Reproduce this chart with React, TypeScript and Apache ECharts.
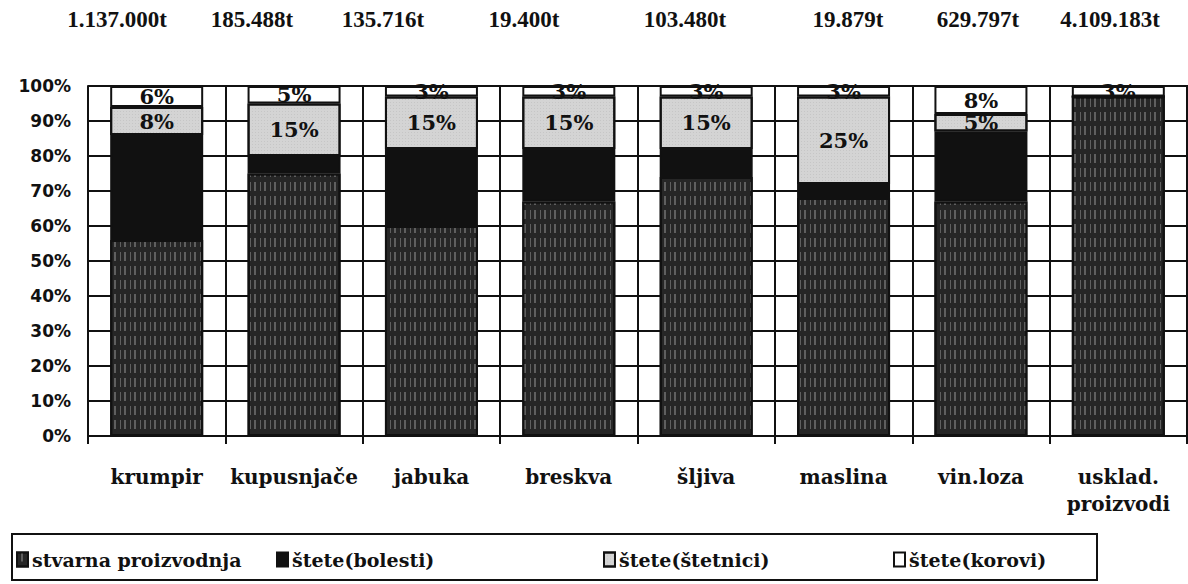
import React, { useEffect, useRef } from "react";
import * as echarts from "echarts";

const categories = ["krumpir", "kupusnjače", "jabuka", "breskva", "šljiva", "maslina", "vin.loza", "usklad.\nproizvodi"];
const tonnage = ["1.137.000t", "185.488t", "135.716t", "19.400t", "103.480t", "19.879t", "629.797t", "4.109.183t"];
const stvarna = [56, 75, 60, 67, 74, 68, 67, 97];
const bolesti = [30, 5, 22, 15, 8, 4, 20, 0];
const stetnici = [8, 15, 15, 15, 15, 25, 5, 0];
const korovi = [6, 5, 3, 3, 3, 3, 8, 3];
const seriesNames = ["stvarna proizvodnja", "štete(bolesti)", "štete(štetnici)", "štete(korovi)"];

// layout (pixel positions of the tonnage captions above the bars and of legend items)
const tonnageLabelX = [117, 252, 383, 524, 685, 848, 978, 1110];
const legendLeft = [16, 276, 603, 893];

const SERIF = "'DejaVu Serif', serif";
const INK = "#111";

export default function App() {
  const ref = useRef<HTMLDivElement>(null);
  useEffect(() => {
    if (!ref.current) return;
    const chart = echarts.init(ref.current, null, { renderer: "svg" });
    const labelStyle = {
      show: true,
      position: "inside",
      color: INK,
      fontFamily: SERIF,
      fontWeight: "bold",
      fontSize: 21,
      formatter: (p: any) => (p.value > 0 ? p.value + "%" : ""),
    };
    const border = { borderColor: INK, borderWidth: 2 };
    const gridLine = { color: INK, width: 2 };
    const legends = seriesNames.map((name, i) => ({
      left: legendLeft[i],
      top: 550,
      padding: 0,
      icon: "rect",
      itemWidth: 11,
      itemHeight: 14,
      data: [name],
      textStyle: { fontFamily: SERIF, fontWeight: "bold", fontSize: 19, color: INK, padding: [0, 0, 0, -1] },
    }));
    chart.setOption({
      animation: false,
      backgroundColor: "#ffffff",
      grid: { left: 88, right: 1, top: 86, bottom: 148, containLabel: false },
      legend: legends,
      graphic: [
        {
          type: "rect",
          shape: { x: 12, y: 534, width: 1085, height: 46 },
          style: { fill: "none", stroke: INK, lineWidth: 2 },
          silent: true,
        },
        ...tonnage.map((t, i) => ({
          type: "text",
          x: tonnageLabelX[i],
          y: 19,
          silent: true,
          style: {
            text: t,
            fill: INK,
            font: "bold 23px 'Liberation Serif', serif",
            textAlign: "center",
            textVerticalAlign: "middle",
          },
        })),
      ],
      xAxis: [
        {
          type: "category",
          data: categories,
          position: "bottom",
          axisLine: { show: true, lineStyle: gridLine },
          axisTick: { show: true, length: 8, lineStyle: gridLine },
          splitLine: { show: true, lineStyle: gridLine },
          axisLabel: {
            margin: 27,
            color: INK,
            fontFamily: SERIF,
            fontWeight: "bold",
            fontSize: 20,
            lineHeight: 27,
            interval: 0,
          },
        },
        {
          type: "category",
          data: categories,
          position: "top",
          axisLine: { show: false },
          axisLabel: { show: false },
          splitLine: { show: false },
          axisTick: { show: true, inside: true, length: 1, lineStyle: gridLine },
        },
      ],
      yAxis: [
        {
          type: "value",
          min: 0,
          max: 100,
          interval: 10,
          position: "left",
          axisLine: { show: true, lineStyle: gridLine },
          axisTick: { show: true, inside: true, length: 1099, lineStyle: gridLine },
          splitLine: { show: true, lineStyle: gridLine },
          axisLabel: {
            formatter: "{value}%",
            margin: 17,
            color: INK,
            fontFamily: "'DejaVu Sans', sans-serif",
            fontWeight: "bold",
            fontSize: 17,
          },
        },
        {
          type: "value",
          min: 0,
          max: 100,
          interval: 10,
          position: "right",
          axisLine: { show: true, lineStyle: gridLine },
          axisLabel: { show: false },
          splitLine: { show: false },
          axisTick: { show: true, inside: false, length: 1099, lineStyle: gridLine },
        },
      ],
      series: [
        {
          name: seriesNames[0],
          type: "bar",
          stack: "total",
          barWidth: 93,
          data: stvarna,
          itemStyle: {
            color: "#262626",
            ...border,
            decal: {
              symbol: "rect",
              symbolSize: 1,
              color: "rgba(165,165,165,0.45)",
              dashArrayX: [[1, 3, 2, 4]],
              dashArrayY: [9, 5],
            },
          },
        },
        {
          name: seriesNames[1],
          type: "bar",
          stack: "total",
          barWidth: 93,
          data: bolesti,
          itemStyle: { color: "#111111", ...border },
        },
        {
          name: seriesNames[2],
          type: "bar",
          stack: "total",
          barWidth: 93,
          data: stetnici,
          label: labelStyle,
          itemStyle: {
            color: "#d4d4d4",
            ...border,
            decal: {
              symbol: "rect",
              symbolSize: 0.6,
              color: "rgba(120,120,120,0.5)",
              dashArrayX: [1, 2],
              dashArrayY: [1, 2],
            },
          },
        },
        {
          name: seriesNames[3],
          type: "bar",
          stack: "total",
          barWidth: 93,
          data: korovi,
          label: labelStyle,
          itemStyle: { color: "#ffffff", ...border },
        },
      ],
    });
    return () => chart.dispose();
  }, []);
  return (
    <div
      ref={ref}
      style={{ position: "absolute", left: 0, top: 0, width: 1188, height: 584, background: "#fff" }}
    />
  );
}
